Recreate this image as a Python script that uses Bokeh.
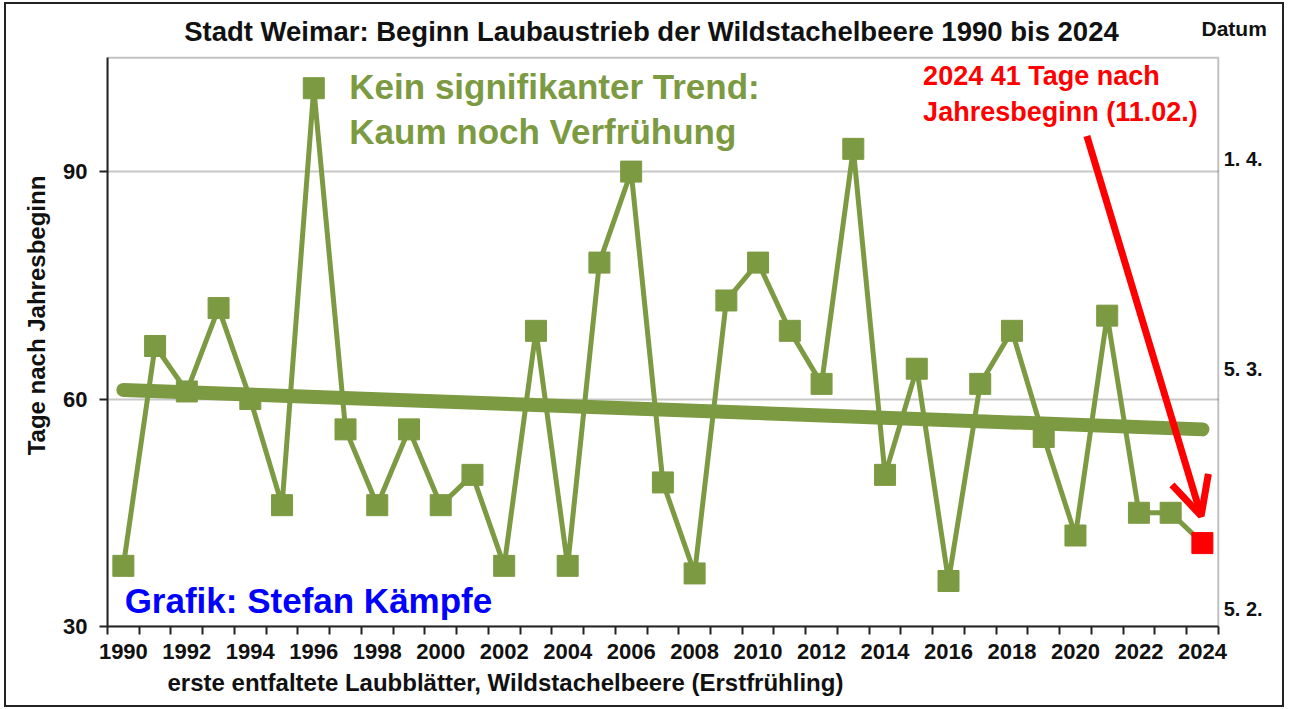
from bokeh.plotting import figure
from bokeh.models import Range1d, FixedTicker, Label, Arrow, OpenHead, Title, BoxAnnotation
from bokeh.embed import file_html
from bokeh.resources import INLINE

# ---- data ----
years = list(range(1990, 2025))
days = [38, 67, 61, 72, 60, 46, 101, 56, 46, 56, 46, 50, 38, 69, 38, 78, 90, 49,
        37, 73, 78, 69, 62, 93, 50, 64, 36, 62, 69, 55, 42, 71, 45, 45, 41]
trend_years = [1990, 2024]
trend_days = [61.2, 56.0]
x_tick_years = list(range(1990, 2025, 2))
y_ticks = [30, 60, 90]
right_labels = ["1. 4.", "5. 3.", "5. 2."]
right_label_pos = [91.6, 64.0, 32.3]

GREEN = "#7c9a42"
FONT = "Liberation Sans"
DARK = "#111111"

X0, X1 = 1989.5, 2024.5      # plot area (category edges)
Y0, Y1 = 30, 105

p = figure(width=1276, height=701, output_backend="svg", toolbar_location=None,
           title=None,
           x_range=Range1d(X0, 2026.65), y_range=Range1d(Y0, 112.04),
           min_border_left=101, min_border_right=0, min_border_top=0, min_border_bottom=83)
p.styles = {"border": "2px solid #222", "margin": "2px 4px 0px 4px", "box-sizing": "content-box"}
p.background_fill_color = "white"
p.border_fill_color = "white"
p.outline_line_color = None

# plot-area frame
p.add_layout(BoxAnnotation(left=X0, right=X1, bottom=Y0, top=Y1, fill_color=None,
                           line_color="#333333", line_width=2, level="underlay"))

# x axis
p.xaxis.bounds = (X0, X1)
p.xaxis.ticker = FixedTicker(ticks=x_tick_years,
                             minor_ticks=[X0 + i for i in range(len(years) + 1)])
p.xaxis.major_tick_out = 0
p.xaxis.major_tick_in = 0
p.xaxis.minor_tick_out = 8
p.xaxis.minor_tick_in = 0
p.xaxis.minor_tick_line_color = "#222222"
p.xaxis.minor_tick_line_width = 2
p.xaxis.axis_line_color = "#222222"
p.xaxis.axis_line_width = 2
p.xaxis.major_label_text_font = FONT
p.xaxis.major_label_text_font_style = "bold"
p.xaxis.major_label_text_font_size = "22px"
p.xaxis.major_label_text_color = DARK
p.xaxis.major_label_standoff = 9

p.add_layout(Title(text="erste entfaltete Laubblätter, Wildstachelbeere (Erstfrühling)",
                   align="left", offset=60, standoff=10, text_font=FONT,
                   text_font_size="24px", text_font_style="bold", text_color=DARK), "below")

# y axis
p.yaxis.bounds = (Y0, Y1)
p.yaxis.ticker = FixedTicker(ticks=y_ticks)
p.yaxis.major_tick_out = 8
p.yaxis.major_tick_in = 0
p.yaxis.minor_tick_out = 0
p.yaxis.minor_tick_in = 0
p.yaxis.major_tick_line_color = "#222222"
p.yaxis.major_tick_line_width = 2
p.yaxis.axis_line_color = "#222222"
p.yaxis.axis_line_width = 2
p.yaxis.major_label_text_font = FONT
p.yaxis.major_label_text_font_style = "bold"
p.yaxis.major_label_text_font_size = "22px"
p.yaxis.major_label_text_color = DARK
p.yaxis.major_label_standoff = 12

p.add_layout(Title(text="Tage nach Jahresbeginn", align="center", standoff=22,
                   text_font=FONT, text_font_size="24px", text_font_style="bold",
                   text_color=DARK), "left")

p.xgrid.grid_line_color = None
p.ygrid.ticker = FixedTicker(ticks=y_ticks)
p.ygrid.cross_bounds = (X0, X1)
p.ygrid.grid_line_color = "#c8c8c8"
p.ygrid.grid_line_width = 2

# data series
p.line(years, days, line_color=GREEN, line_width=5)
p.scatter(years[:-1], days[:-1], marker="square", size=21, fill_color=GREEN, line_color=GREEN)
p.scatter(years[-1:], days[-1:], marker="square", size=21, fill_color="#ff0000", line_color="#ff0000")

# trend
p.line(trend_years, trend_days, line_color=GREEN, line_width=14, line_cap="round")

# arrow
p.add_layout(Arrow(end=OpenHead(size=38, line_color="#ff0000", line_width=7),
                   x_start=2020.36, y_start=94.7, x_end=2023.96, y_end=44.6,
                   line_color="#ff0000", line_width=7))

def lab(x, y, text, size, color=DARK, align="left"):
    p.add_layout(Label(x=x, y=y, text=text, text_font=FONT, text_font_size=size,
                       text_font_style="bold", text_color=color,
                       text_align=align, text_baseline="middle"))

lab(2006.64, 108.45, "Stadt Weimar: Beginn Laubaustrieb der Wildstachelbeere 1990 bis 2024", "27.5px", align="center")
lab(2025.0, 108.85, "Datum", "21px", align="center")
for t, yv in zip(right_labels, right_label_pos):
    lab(2024.67, yv, t, "20px")
lab(1997.12, 101.2, "Kein signifikanter Trend:", "35px", color=GREEN)
lab(1997.12, 95.3, "Kaum noch Verfrühung", "35px", color=GREEN)
lab(2015.2, 102.6, "2024 41 Tage nach", "27px", color="#ff0000")
lab(2015.2, 97.9, "Jahresbeginn (11.02.)", "27px", color="#ff0000")
lab(1990.04, 33.45, "Grafik: Stefan Kämpfe", "35px", color="#0000ff")

open("out.html", "w").write(file_html(p, INLINE))
